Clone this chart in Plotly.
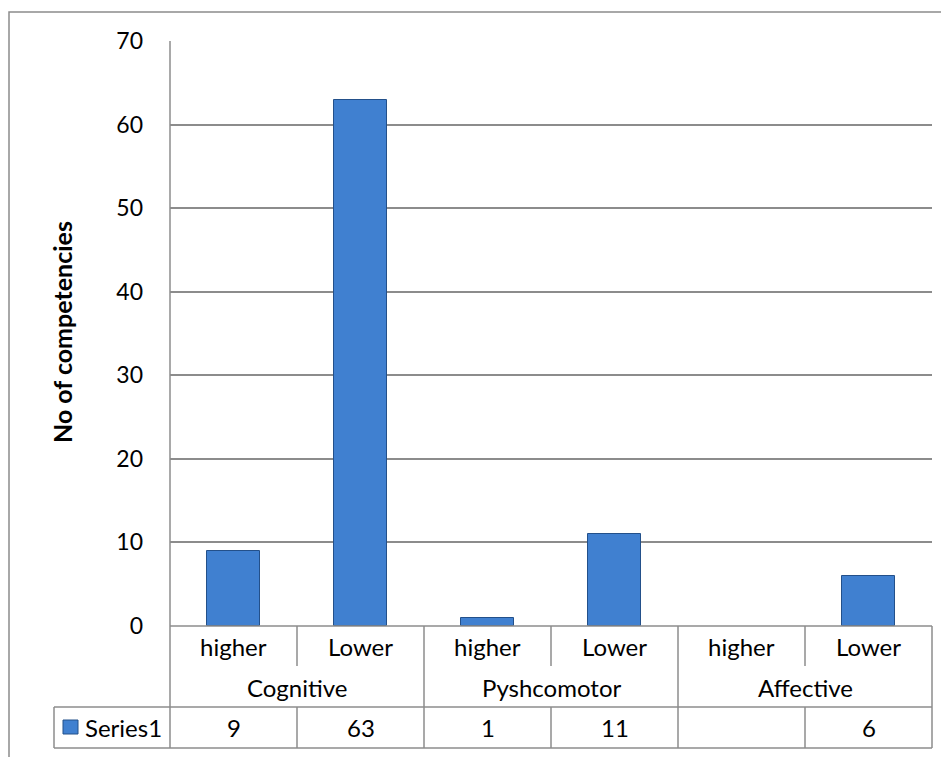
import plotly.graph_objects as go

# ---- data ----
groups = ["Cognitive", "Pyshcomotor", "Affective"]
levels = ["higher", "Lower", "higher", "Lower", "higher", "Lower"]
series_name = "Series1"
values = [9, 63, 1, 11, None, 6]
y_ticks = [0, 10, 20, 30, 40, 50, 60, 70]

OFF = 8  # page body margin
W, H = 949, 757
# plot area in screen pixels: x 170..932, y 41..626
SL, SR, ST, SB = 170, 932, 41, 626
L, T = SL - OFF, ST - OFF
R = W - (SR - OFF)
B = H - (SB - OFF)
PW, PH = SR - SL, SB - ST
FONT = "Lato"
FS = 24
LINE = "#8c8c8c"
BAR = "#4080D0"
BAR_EDGE = "#23508A"


def px_x(p):
    return (p - SL) / PW


def px_y(p):
    return (SB - p) / PH


n = len(levels)
xs = list(range(n))

fig = go.Figure()
fig.add_trace(go.Bar(
    x=xs, y=values, width=0.41,
    marker=dict(color=BAR, line=dict(color=BAR_EDGE, width=1)),
    name=series_name, showlegend=False,
))

shapes = []
annotations = []

# outer chart border
shapes.append(dict(type="rect", xref="paper", yref="paper",
                   x0=px_x(9), x1=px_x(990), y0=px_y(12), y1=px_y(800),
                   line=dict(color=LINE, width=1.5), layer="below"))

r1 = px_y(666)
r2 = px_y(707)
r3 = px_y(748)
ln = dict(color=LINE, width=1.5)
shapes.append(dict(type="line", xref="paper", yref="paper", x0=px_x(54), x1=1,
                   y0=r2, y1=r2, line=ln))
shapes.append(dict(type="line", xref="paper", yref="paper", x0=px_x(54), x1=1,
                   y0=r3, y1=r3, line=ln))
shapes.append(dict(type="line", xref="paper", yref="paper", x0=0, x1=1,
                   y0=0, y1=0, line=ln))
shapes.append(dict(type="line", xref="paper", yref="paper", x0=0, x1=0,
                   y0=1, y1=r3, line=ln))
shapes.append(dict(type="line", xref="paper", yref="paper", x0=1, x1=1,
                   y0=0, y1=r3, line=ln))
shapes.append(dict(type="line", xref="paper", yref="paper", x0=px_x(54), x1=px_x(54),
                   y0=r2, y1=r3, line=ln))
for i in range(n - 1):
    xb = i + 0.5
    if i % 2 == 0:
        shapes.append(dict(type="line", xref="x", yref="paper", x0=xb, x1=xb,
                           y0=0, y1=r1, line=ln))
        shapes.append(dict(type="line", xref="x", yref="paper", x0=xb, x1=xb,
                           y0=r2, y1=r3, line=ln))
    else:
        shapes.append(dict(type="line", xref="x", yref="paper", x0=xb, x1=xb,
                           y0=0, y1=r3, line=ln))

txt = dict(family=FONT, size=FS, color="#000000")
for i, lv in enumerate(levels):
    annotations.append(dict(x=i, y=px_y(646), xref="x", yref="paper", text=lv,
                            showarrow=False, font=txt, xanchor="center", yanchor="middle"))
    if values[i] is not None:
        annotations.append(dict(x=i, y=px_y(727), xref="x", yref="paper",
                                text=str(values[i]), showarrow=False, font=txt,
                                xanchor="center", yanchor="middle"))
for g, name in enumerate(groups):
    annotations.append(dict(x=2 * g + 0.5, y=px_y(687), xref="x", yref="paper",
                            text=name, showarrow=False, font=txt,
                            xanchor="center", yanchor="middle"))

# legend key in table
shapes.append(dict(type="rect", xref="paper", yref="paper",
                   x0=px_x(63), x1=px_x(78), y0=px_y(720), y1=px_y(734),
                   fillcolor=BAR, line=dict(color=BAR_EDGE, width=1)))
annotations.append(dict(x=px_x(83), y=px_y(727), xref="paper", yref="paper",
                        text=series_name, showarrow=False, font=txt,
                        xanchor="left", yanchor="middle"))

annotations.append(dict(x=px_x(62), y=px_y(332), xref="paper", yref="paper",
                        text="<b>No of competencies</b>", textangle=-90,
                        showarrow=False, font=dict(family=FONT, size=25, color="#000000"),
                        xanchor="center", yanchor="middle"))

fig.update_layout(
    width=W, height=H,
    margin=dict(l=L, r=R, t=T, b=B, pad=0),
    paper_bgcolor="white", plot_bgcolor="white",
    shapes=shapes, annotations=annotations,
    xaxis=dict(range=[-0.5, n - 0.5], showticklabels=False, showgrid=False,
               zeroline=False, showline=False, ticks=""),
    yaxis=dict(range=[0, 70], tickvals=y_ticks, showgrid=True, gridcolor=LINE,
               gridwidth=1.5, zeroline=False, showline=False, ticks="",
               tickfont=dict(family=FONT, size=23, color="#000000"),
               ticklabelstandoff=26),
    bargap=0,
)

fig.write_html("out.html")
